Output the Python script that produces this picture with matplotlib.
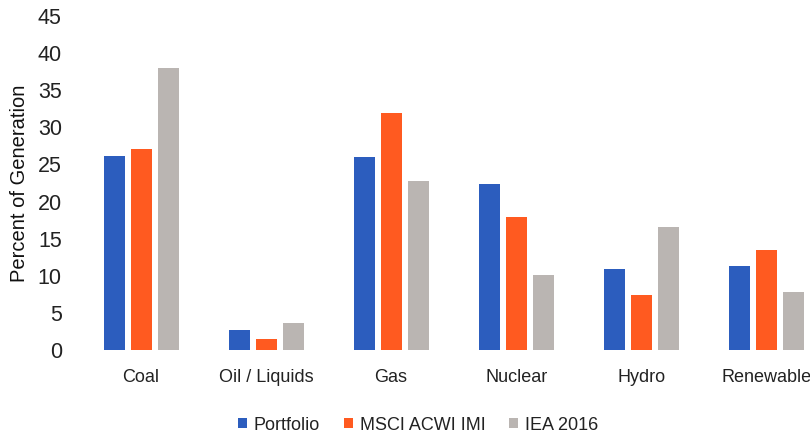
import matplotlib
matplotlib.use("Agg")
import matplotlib.pyplot as plt
import numpy as np

categories = ["Coal", "Oil / Liquids", "Gas", "Nuclear", "Hydro", "Renewable"]
portfolio = [26.1, 2.7, 26.0, 22.4, 10.9, 11.3]
msci_acwi_imi = [27.1, 1.5, 31.9, 17.9, 7.4, 13.5]
iea_2016 = [38.0, 3.6, 22.8, 10.1, 16.6, 7.8]
series_names = ["Portfolio", "MSCI ACWI IMI", "IEA 2016"]
y_ticks = [0, 5, 10, 15, 20, 25, 30, 35, 40, 45]

colors = ["#2C5DBE", "#FF5A20", "#BAB5B2"]
plt.rcParams["font.family"] = ["Liberation Sans", "DejaVu Sans"]

fig = plt.figure(figsize=(8.1, 4.36), dpi=100)
ax = fig.add_axes([78.5 / 810, 1 - 350 / 436, 1 - 78.5 / 810, (350 - 16) / 436])

x = np.arange(len(categories))
width = 0.168
step = 0.216
for i, (vals, name, c) in enumerate(zip([portfolio, msci_acwi_imi, iea_2016], series_names, colors)):
    ax.bar(x + (i - 1) * step, vals, width=width, color=c, label=name)

ax.set_xlim(-0.5, 5.35)
ax.set_ylim(0, 45)
ax.set_yticks(y_ticks)
ax.set_yticklabels([str(t) for t in y_ticks], fontsize=15.5, color="#222222")
ax.set_xticks(x)
ax.set_xticklabels(categories, fontsize=13, color="#222222")
ax.tick_params(axis="both", length=0)
ax.tick_params(axis="x", pad=14)
ax.tick_params(axis="y", pad=12)
for s in ax.spines.values():
    s.set_visible(False)

fig.text(20 / 810, 1 - 183 / 436, "Percent of Generation", rotation=90, ha="center", va="center",
         fontsize=14.5, color="#111111")

leg = fig.legend(loc="center", bbox_to_anchor=(418 / 810, 1 - 425 / 436), ncol=3, frameon=False,
                 handlelength=0.5, handleheight=0.5, handletextpad=0.4, columnspacing=1.3,
                 prop={"size": 13})
for t in leg.get_texts():
    t.set_color("#222222")

fig.savefig("out.png", dpi=100)
